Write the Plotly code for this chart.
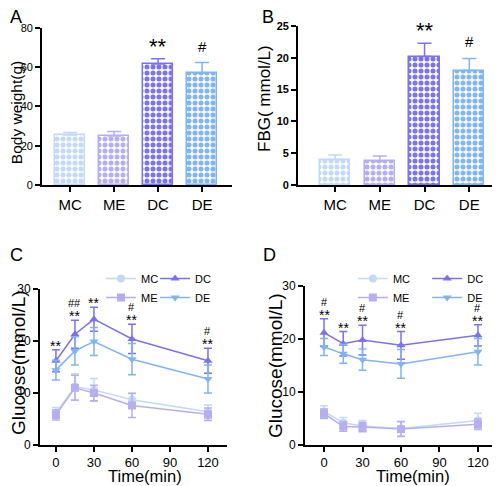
import plotly.graph_objects as go

# ---------------- data ----------------
groups = ["MC", "ME", "DC", "DE"]
bw_mean = [25.5, 25.0, 61.7, 57.0]
bw_sem = [1.3, 2.2, 2.6, 5.4]
bw_sig = ["", "", "**", "#"]

fbg_mean = [4.0, 3.7, 20.2, 18.0]
fbg_sem = [0.7, 0.85, 2.1, 1.9]
fbg_sig = ["", "", "**", "#"]

time_min = [0, 15, 30, 60, 120]

c_mc = [6.2, 11.2, 10.6, 8.7, 6.4]
c_mc_err = [1.0, 2.5, 2.2, 1.3, 1.3]
c_me = [5.8, 11.0, 10.0, 7.6, 5.9]
c_me_err = [1.0, 2.4, 1.5, 2.3, 1.2]
c_dc = [16.2, 21.3, 24.2, 20.4, 16.2]
c_dc_err = [2.1, 2.7, 2.3, 2.8, 2.4]
c_de = [14.4, 18.1, 19.9, 16.5, 12.7]
c_de_err = [1.9, 2.7, 2.7, 3.0, 2.7]
c_star = ["**", "**", "**", "**", "**"]
c_hash = ["", "##", "", "#", "#"]

d_mc = [6.3, 4.2, 3.6, 3.1, 4.6]
d_mc_err = [1.1, 1.0, 1.0, 1.4, 1.4]
d_me = [5.9, 3.5, 3.4, 3.0, 3.9]
d_me_err = [0.9, 0.9, 0.9, 1.4, 1.0]
d_dc = [21.2, 19.1, 19.8, 18.8, 20.7]
d_dc_err = [2.6, 2.3, 2.8, 2.6, 2.0]
d_de = [18.5, 17.2, 16.1, 15.3, 17.6]
d_de_err = [1.6, 1.8, 2.0, 2.7, 2.5]
d_star = ["**", "**", "**", "**", "**"]
d_hash = ["#", "", "#", "#", "#"]

colors = {"MC": "#c2d9f7", "ME": "#b6aef2", "DC": "#7b72f2", "DE": "#7fb4f5"}
markers = {"MC": "circle", "ME": "square", "DC": "triangle-up", "DE": "triangle-down"}

FONT = "Liberation Sans, Arial, sans-serif"

fig = go.Figure()

# ---------------- bar panels ----------------
def add_bars(means, sems, xa, ya):
    for g, m, s in zip(groups, means, sems):
        c = colors[g]
        fig.add_trace(go.Bar(
            x=[g], y=[m], width=0.68, xaxis=xa, yaxis=ya, showlegend=False,
            marker=dict(color=c, line=dict(color=c, width=1.5),
                        pattern=dict(shape=".", fgcolor=c, bgcolor="white",
                                     size=6, solidity=0.55, fillmode="replace")),
            error_y=dict(type="data", array=[s], arrayminus=[0], symmetric=False,
                         color=c, thickness=1.5, width=7),
        ))

add_bars(bw_mean, bw_sem, "x", "y")
add_bars(fbg_mean, fbg_sem, "x2", "y2")

annotations = []

def add_bar_sig(means, sems, sigs, xref, yref):
    for g, m, s, t in zip(groups, means, sems, sigs):
        if not t:
            continue
        big = t.startswith("*")
        annotations.append(dict(
            x=g, y=m + s, xref=xref, yref=yref, text=t, showarrow=False,
            yanchor="bottom", yshift=(-2 if big else 6),
            font=dict(family=FONT, size=(22 if big else 15), color="black")))

add_bar_sig(bw_mean, bw_sem, bw_sig, "x", "y")
add_bar_sig(fbg_mean, fbg_sem, fbg_sig, "x2", "y2")

# ---------------- line panels ----------------
def add_lines(series, xa, ya, legends):
    for (g, vals, errs), lg in zip(series, legends):
        c = colors[g]
        fig.add_trace(go.Scatter(
            x=time_min, y=vals, name=g, xaxis=xa, yaxis=ya, legend=lg,
            mode="lines+markers",
            line=dict(color=c, width=1.5),
            marker=dict(symbol=markers[g], size=8, color=c),
            error_y=dict(type="data", array=errs, color=c, thickness=1.5, width=4),
        ))

add_lines([("MC", c_mc, c_mc_err), ("ME", c_me, c_me_err),
           ("DC", c_dc, c_dc_err), ("DE", c_de, c_de_err)],
          "x3", "y3", ["legend", "legend", "legend2", "legend2"])
add_lines([("MC", d_mc, d_mc_err), ("ME", d_me, d_me_err),
           ("DC", d_dc, d_dc_err), ("DE", d_de, d_de_err)],
          "x4", "y4", ["legend3", "legend3", "legend4", "legend4"])

def add_line_sig(top, err, stars, hashes, xref, yref):
    for t, m, e, s, h in zip(time_min, top, err, stars, hashes):
        if s:
            annotations.append(dict(x=t, y=m + e, xref=xref, yref=yref, text=s,
                                    showarrow=False, yanchor="bottom", yshift=-6,
                                    font=dict(family=FONT, size=14, color="black")))
        if h:
            annotations.append(dict(x=t, y=m + e, xref=xref, yref=yref, text=h,
                                    showarrow=False, yanchor="bottom", yshift=9,
                                    font=dict(family=FONT, size=11, color="#000000")))

add_line_sig(c_dc, c_dc_err, c_star, c_hash, "x3", "y3")
add_line_sig(d_dc, d_dc_err, d_star, d_hash, "x4", "y4")

# panel letters
for letter, x, y in [("A", 0.0, 1.006), ("B", 0.512, 1.006),
                     ("C", 0.0, 0.508), ("D", 0.514, 0.508)]:
    annotations.append(dict(x=x, y=y, xref="paper", yref="paper", text=letter,
                            showarrow=False, xanchor="left", yanchor="top",
                            font=dict(family=FONT, size=18, color="black")))

# axis titles (placed as paper annotations so they are not squeezed by zero margins)
axis_titles = [
    ("Body weight(g)", 0.0163, 0.780, -90, 15.5),
    ("FBG( mmol/L)", 0.5203, 0.8117, -90, 17),
    ("Glucose(mmol/L)", 0.0203, 0.2594, -90, 19),
    ("Glucose(mmol/L)", 0.5427, 0.2510, -90, 19),
    ("Time(min)", 0.2785, 0.020, 0, 16.5),
    ("Time(min)", 0.823, 0.020, 0, 16.5),
]
for text, x, y, ang, size in axis_titles:
    annotations.append(dict(x=x, y=y, xref="paper", yref="paper", text=text,
                            showarrow=False, xanchor="center", yanchor="middle",
                            textangle=ang,
                            font=dict(family=FONT, size=size, color="black")))

axis_common = dict(showline=True, linecolor="black", linewidth=1.8,
                   ticks="outside", ticklen=5, tickwidth=1.5, tickcolor="black",
                   showgrid=False, zeroline=False, automargin=False)

legend_common = dict(orientation="v", bgcolor="rgba(0,0,0,0)", itemwidth=30,
                     font=dict(family=FONT, size=11, color="black"),
                     xanchor="left", yanchor="top", tracegroupgap=0)

# the page body adds an 8px offset; the figure is sized to fit the window
fig.update_layout(
    width=492, height=478, margin=dict(l=0, r=0, t=0, b=0, autoexpand=False),
    paper_bgcolor="white", plot_bgcolor="white",
    font=dict(family=FONT, color="black"),
    bargap=0,
    xaxis=dict(domain=[0.0691, 0.4553], range=[-0.64, 3.68], anchor="y",
               tickfont=dict(size=15), **axis_common),
    yaxis=dict(domain=[0.6297, 0.9582], range=[0, 80], anchor="x",
               tickvals=[0, 20, 40, 60, 80], tickfont=dict(size=11),
               **axis_common),
    xaxis2=dict(domain=[0.5894, 0.9939], range=[-0.83, 3.62], anchor="y2",
                tickfont=dict(size=15), **axis_common),
    yaxis2=dict(domain=[0.6297, 0.9623], range=[0, 25], anchor="x2",
                tickvals=[0, 5, 10, 15, 20, 25], tickfont=dict(size=11, weight="bold"),
                **axis_common),
    xaxis3=dict(domain=[0.065, 0.4451], range=[-12.6, 135], anchor="y3",
                tickvals=[0, 30, 60, 90, 120], tickfont=dict(size=13),
                **axis_common),
    yaxis3=dict(domain=[0.0858, 0.4121], range=[0, 30], anchor="x3",
                tickvals=[0, 10, 20, 30], tickfont=dict(size=12),
                **axis_common),
    xaxis4=dict(domain=[0.6037, 0.9959], range=[-14.8, 135.6], anchor="y4",
                tickvals=[0, 30, 60, 90, 120], tickfont=dict(size=13),
                **axis_common),
    yaxis4=dict(domain=[0.0858, 0.4184], range=[0, 30], anchor="x4",
                tickvals=[0, 10, 20, 30], tickfont=dict(size=12),
                **axis_common),
    legend=dict(x=0.189, y=0.4644, **legend_common),
    legend2=dict(x=0.299, y=0.4644, **legend_common),
    legend3=dict(x=0.701, y=0.4644, **legend_common),
    legend4=dict(x=0.852, y=0.4644, **legend_common),
    annotations=annotations,
)

fig.write_html("out.html")
